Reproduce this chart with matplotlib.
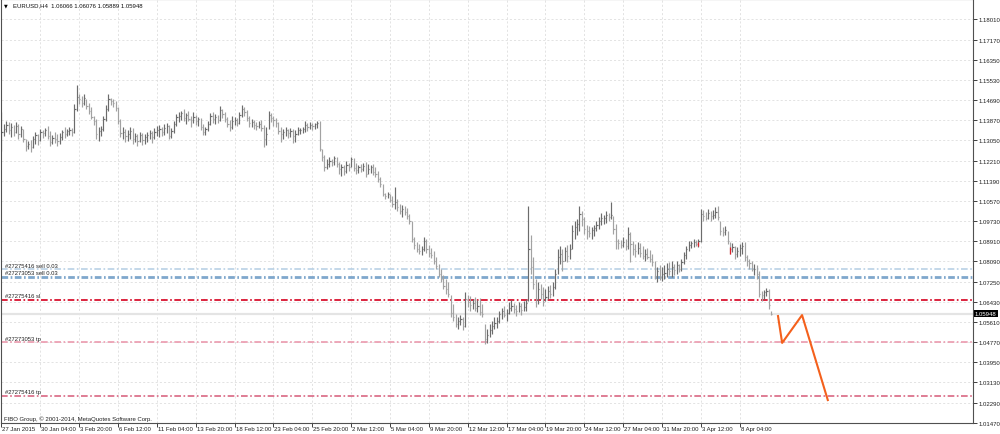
import numpy as np
import matplotlib
matplotlib.use("Agg")
import matplotlib.pyplot as plt
from matplotlib.transforms import blended_transform_factory, ScaledTranslation

plt.rcParams['font.family'] = ['Liberation Sans', 'DejaVu Sans']
plt.rcParams['lines.scale_dashes'] = False

# EURUSD H4 bars
highs = [
    1.1421, 1.1372, 1.1384, 1.1380, 1.1376, 1.1367, 1.1380, 1.1372, 1.1363, 1.1351,
    1.1310, 1.1302, 1.1306, 1.1322, 1.1339, 1.1331, 1.1351, 1.1347, 1.1355, 1.1363,
    1.1343, 1.1326, 1.1339, 1.1331, 1.1335, 1.1347, 1.1359, 1.1351, 1.1359, 1.1355,
    1.1454, 1.1531, 1.1495, 1.1486, 1.1495, 1.1474, 1.1458, 1.1441, 1.1404, 1.1392,
    1.1359, 1.1363, 1.1404, 1.1449, 1.1495, 1.1478, 1.1474, 1.1466, 1.1441, 1.1392,
    1.1359, 1.1351, 1.1347, 1.1359, 1.1355, 1.1335, 1.1331, 1.1339, 1.1335, 1.1331,
    1.1339, 1.1347, 1.1343, 1.1355, 1.1363, 1.1367, 1.1359, 1.1372, 1.1376, 1.1367,
    1.1355, 1.1384, 1.1412, 1.1421, 1.1425, 1.1433, 1.1417, 1.1425, 1.1404, 1.1421,
    1.1408, 1.1400, 1.1396, 1.1372, 1.1359, 1.1384, 1.1417, 1.1421, 1.1412, 1.1408,
    1.1445, 1.1433, 1.1421, 1.1400, 1.1388, 1.1404, 1.1400, 1.1396, 1.1421, 1.1449,
    1.1441, 1.1429, 1.1404, 1.1392, 1.1388, 1.1380, 1.1384, 1.1388, 1.1367, 1.1359,
    1.1425, 1.1417, 1.1404, 1.1396, 1.1380, 1.1359, 1.1351, 1.1359, 1.1351, 1.1355,
    1.1351, 1.1347, 1.1359, 1.1355, 1.1359, 1.1384, 1.1376, 1.1380, 1.1376, 1.1376,
    1.1384, 1.1384, 1.1269, 1.1244, 1.1228, 1.1236, 1.1228, 1.1240, 1.1236, 1.1216,
    1.1208, 1.1203, 1.1220, 1.1212, 1.1236, 1.1232, 1.1212, 1.1203, 1.1208, 1.1212,
    1.1216, 1.1208, 1.1203, 1.1208, 1.1195, 1.1179, 1.1154, 1.1126, 1.1089, 1.1093,
    1.1085, 1.1076, 1.1113, 1.1064, 1.1044, 1.1039, 1.1035, 1.1027, 1.1003, 1.0974,
    1.0908, 1.0888, 1.0880, 1.0871, 1.0908, 1.0900, 1.0875, 1.0863, 1.0851, 1.0826,
    1.0798, 1.0777, 1.0752, 1.0736, 1.0724, 1.0670, 1.0634, 1.0593, 1.0580, 1.0588,
    1.0580, 1.0683, 1.0670, 1.0666, 1.0654, 1.0662, 1.0650, 1.0658, 1.0634, 1.0552,
    1.0531, 1.0552, 1.0564, 1.0580, 1.0580, 1.0605, 1.0617, 1.0625, 1.0613, 1.0642,
    1.0650, 1.0638, 1.0629, 1.0642, 1.0638, 1.0646, 1.0654, 1.1035, 1.0916, 1.0826,
    1.0736, 1.0724, 1.0716, 1.0703, 1.0695, 1.0707, 1.0711, 1.0724, 1.0777, 1.0859,
    1.0871, 1.0859, 1.0867, 1.0875, 1.0880, 1.0957, 1.0974, 1.0982, 1.1035, 1.1015,
    1.0990, 1.0957, 1.0953, 1.0949, 1.0957, 1.0974, 1.0990, 1.1007, 1.0998, 1.1015,
    1.1007, 1.1052, 1.0994, 1.0962, 1.0900, 1.0896, 1.0908, 1.0900, 1.0949, 1.0929,
    1.0892, 1.0880, 1.0888, 1.0884, 1.0871, 1.0859, 1.0863, 1.0855, 1.0839, 1.0810,
    1.0785, 1.0793, 1.0785, 1.0793, 1.0802, 1.0806, 1.0810, 1.0798, 1.0810, 1.0798,
    1.0818, 1.0847, 1.0871, 1.0892, 1.0892, 1.0900, 1.0896, 1.0900, 1.1023, 1.1019,
    1.1011, 1.1023, 1.1015, 1.1019, 1.1031, 1.1035, 1.0974, 1.0949, 1.0953, 1.0933,
    1.0888, 1.0884, 1.0871, 1.0867, 1.0880, 1.0888, 1.0888, 1.0834, 1.0818, 1.0810,
    1.0798, 1.0793, 1.0769, 1.0687, 1.0691, 1.0699, 1.0695, 1.06076,
]
lows = [
    1.1261, 1.1322, 1.1339, 1.1331, 1.1318, 1.1322, 1.1335, 1.1310, 1.1318, 1.1298,
    1.1261, 1.1269, 1.1257, 1.1273, 1.1290, 1.1285, 1.1302, 1.1314, 1.1322, 1.1310,
    1.1281, 1.1290, 1.1294, 1.1281, 1.1290, 1.1306, 1.1314, 1.1322, 1.1326, 1.1322,
    1.1335, 1.1425, 1.1454, 1.1441, 1.1449, 1.1433, 1.1412, 1.1392, 1.1367, 1.1310,
    1.1302, 1.1322, 1.1343, 1.1384, 1.1425, 1.1449, 1.1441, 1.1425, 1.1372, 1.1318,
    1.1310, 1.1298, 1.1302, 1.1310, 1.1290, 1.1298, 1.1281, 1.1298, 1.1285, 1.1290,
    1.1298, 1.1310, 1.1294, 1.1310, 1.1322, 1.1318, 1.1322, 1.1326, 1.1335, 1.1310,
    1.1314, 1.1335, 1.1363, 1.1380, 1.1388, 1.1384, 1.1372, 1.1384, 1.1359, 1.1376,
    1.1367, 1.1363, 1.1347, 1.1326, 1.1326, 1.1343, 1.1367, 1.1376, 1.1372, 1.1376,
    1.1384, 1.1396, 1.1380, 1.1359, 1.1343, 1.1351, 1.1367, 1.1363, 1.1372, 1.1400,
    1.1404, 1.1384, 1.1359, 1.1359, 1.1351, 1.1347, 1.1355, 1.1343, 1.1277, 1.1285,
    1.1351, 1.1380, 1.1363, 1.1359, 1.1331, 1.1298, 1.1310, 1.1322, 1.1314, 1.1318,
    1.1294, 1.1298, 1.1326, 1.1331, 1.1335, 1.1339, 1.1343, 1.1351, 1.1347, 1.1351,
    1.1355, 1.1261, 1.1220, 1.1179, 1.1187, 1.1195, 1.1199, 1.1203, 1.1195, 1.1167,
    1.1158, 1.1162, 1.1171, 1.1179, 1.1195, 1.1179, 1.1167, 1.1171, 1.1175, 1.1179,
    1.1154, 1.1167, 1.1171, 1.1162, 1.1154, 1.1134, 1.1113, 1.1076, 1.1064, 1.1068,
    1.1052, 1.1031, 1.1023, 1.1015, 1.1003, 1.0990, 1.0998, 1.0982, 1.0962, 1.0888,
    1.0859, 1.0847, 1.0839, 1.0834, 1.0851, 1.0843, 1.0826, 1.0822, 1.0798, 1.0777,
    1.0744, 1.0724, 1.0695, 1.0675, 1.0662, 1.0580, 1.0564, 1.0539, 1.0531, 1.0547,
    1.0527, 1.0539, 1.0621, 1.0605, 1.0613, 1.0605, 1.0601, 1.0588, 1.0580, 1.0470,
    1.0474, 1.0498, 1.0511, 1.0531, 1.0535, 1.0556, 1.0572, 1.0580, 1.0564, 1.0593,
    1.0605, 1.0597, 1.0584, 1.0601, 1.0588, 1.0605, 1.0605, 1.0646, 1.0757, 1.0695,
    1.0621, 1.0634, 1.0654, 1.0625, 1.0646, 1.0654, 1.0658, 1.0666, 1.0695, 1.0757,
    1.0798, 1.0769, 1.0810, 1.0806, 1.0818, 1.0859, 1.0900, 1.0916, 1.0933, 1.0953,
    1.0921, 1.0900, 1.0908, 1.0900, 1.0912, 1.0933, 1.0941, 1.0957, 1.0962, 1.0966,
    1.0974, 1.0982, 1.0921, 1.0859, 1.0859, 1.0863, 1.0867, 1.0855, 1.0859, 1.0806,
    1.0834, 1.0826, 1.0839, 1.0826, 1.0818, 1.0810, 1.0818, 1.0806, 1.0789, 1.0736,
    1.0724, 1.0732, 1.0728, 1.0736, 1.0744, 1.0752, 1.0744, 1.0752, 1.0757, 1.0765,
    1.0769, 1.0798, 1.0818, 1.0851, 1.0863, 1.0867, 1.0871, 1.0867, 1.0888, 1.0974,
    1.0978, 1.0982, 1.0974, 1.0982, 1.0986, 1.0978, 1.0916, 1.0912, 1.0916, 1.0880,
    1.0839, 1.0847, 1.0818, 1.0826, 1.0830, 1.0839, 1.0810, 1.0789, 1.0777, 1.0769,
    1.0752, 1.0736, 1.0662, 1.0646, 1.0654, 1.0666, 1.0613, 1.05889,
]
closes = [
    1.1339, 1.1351, 1.1367, 1.1347, 1.1359, 1.1339, 1.1363, 1.1331, 1.1351, 1.1310,
    1.1281, 1.1290, 1.1277, 1.1310, 1.1326, 1.1306, 1.1339, 1.1335, 1.1347, 1.1322,
    1.1298, 1.1314, 1.1310, 1.1302, 1.1318, 1.1339, 1.1331, 1.1343, 1.1347, 1.1339,
    1.1433, 1.1482, 1.1474, 1.1458, 1.1478, 1.1445, 1.1425, 1.1400, 1.1384, 1.1331,
    1.1343, 1.1351, 1.1392, 1.1433, 1.1474, 1.1466, 1.1458, 1.1437, 1.1384, 1.1335,
    1.1339, 1.1322, 1.1331, 1.1343, 1.1310, 1.1322, 1.1302, 1.1326, 1.1306, 1.1318,
    1.1326, 1.1335, 1.1318, 1.1339, 1.1347, 1.1351, 1.1339, 1.1355, 1.1363, 1.1322,
    1.1343, 1.1372, 1.1400, 1.1404, 1.1417, 1.1396, 1.1408, 1.1392, 1.1388, 1.1400,
    1.1384, 1.1392, 1.1359, 1.1339, 1.1351, 1.1372, 1.1404, 1.1392, 1.1400, 1.1388,
    1.1429, 1.1412, 1.1392, 1.1372, 1.1359, 1.1384, 1.1388, 1.1376, 1.1408, 1.1433,
    1.1421, 1.1396, 1.1376, 1.1380, 1.1367, 1.1363, 1.1372, 1.1355, 1.1310, 1.1331,
    1.1408, 1.1396, 1.1388, 1.1376, 1.1343, 1.1331, 1.1339, 1.1347, 1.1335, 1.1343,
    1.1322, 1.1331, 1.1347, 1.1347, 1.1351, 1.1367, 1.1359, 1.1367, 1.1363, 1.1372,
    1.1376, 1.1269, 1.1236, 1.1195, 1.1208, 1.1220, 1.1216, 1.1232, 1.1208, 1.1187,
    1.1195, 1.1179, 1.1203, 1.1195, 1.1228, 1.1191, 1.1183, 1.1195, 1.1187, 1.1199,
    1.1167, 1.1187, 1.1195, 1.1175, 1.1167, 1.1146, 1.1126, 1.1085, 1.1076, 1.1085,
    1.1060, 1.1044, 1.1052, 1.1031, 1.1015, 1.1023, 1.1011, 1.0994, 1.0974, 1.0900,
    1.0875, 1.0859, 1.0851, 1.0859, 1.0892, 1.0859, 1.0843, 1.0834, 1.0810, 1.0789,
    1.0757, 1.0736, 1.0707, 1.0695, 1.0675, 1.0597, 1.0580, 1.0552, 1.0564, 1.0572,
    1.0543, 1.0654, 1.0642, 1.0629, 1.0638, 1.0617, 1.0625, 1.0601, 1.0593, 1.0490,
    1.0506, 1.0527, 1.0543, 1.0556, 1.0564, 1.0593, 1.0605, 1.0588, 1.0597, 1.0617,
    1.0625, 1.0613, 1.0605, 1.0625, 1.0609, 1.0621, 1.0638, 1.0859, 1.0785, 1.0716,
    1.0654, 1.0695, 1.0675, 1.0642, 1.0662, 1.0687, 1.0675, 1.0703, 1.0757, 1.0826,
    1.0839, 1.0810, 1.0851, 1.0830, 1.0859, 1.0933, 1.0949, 1.0962, 1.1003, 1.0982,
    1.0941, 1.0933, 1.0925, 1.0937, 1.0945, 1.0957, 1.0974, 1.0986, 1.0986, 1.0998,
    1.0990, 1.0998, 1.0941, 1.0892, 1.0884, 1.0875, 1.0888, 1.0871, 1.0921, 1.0880,
    1.0859, 1.0851, 1.0863, 1.0843, 1.0830, 1.0839, 1.0826, 1.0818, 1.0806, 1.0748,
    1.0769, 1.0744, 1.0757, 1.0761, 1.0777, 1.0769, 1.0785, 1.0773, 1.0793, 1.0777,
    1.0806, 1.0834, 1.0859, 1.0875, 1.0884, 1.0888, 1.0880, 1.0892, 1.1003, 1.0994,
    1.0986, 1.1007, 1.0994, 1.0998, 1.1011, 1.0990, 1.0933, 1.0929, 1.0937, 1.0892,
    1.0859, 1.0867, 1.0839, 1.0851, 1.0863, 1.0871, 1.0826, 1.0810, 1.0802, 1.0777,
    1.0777, 1.0757, 1.0675, 1.0670, 1.0683, 1.0687, 1.0629, 1.05948,
]
last_price = 1.05948
header = "EURUSD,H4  1.06066 1.06076 1.05889 1.05948"
footer = "FIBO Group, \u00a9 2001-2014, MetaQuotes Software Corp."

time_labels = [
    "27 Jan 2015", "30 Jan 04:00", "3 Feb 20:00", "6 Feb 12:00", "11 Feb 04:00",
    "13 Feb 20:00", "18 Feb 12:00", "23 Feb 04:00", "25 Feb 20:00", "2 Mar 12:00",
    "5 Mar 04:00", "9 Mar 20:00", "12 Mar 12:00", "17 Mar 04:00", "19 Mar 20:00",
    "24 Mar 12:00", "27 Mar 04:00", "31 Mar 20:00", "3 Apr 12:00", "8 Apr 04:00",
]
bars_per_label = 16

price_ticks = [
    1.18010, 1.17170, 1.16350, 1.15530, 1.14690, 1.13870, 1.13050, 1.12210,
    1.11390, 1.10570, 1.09730, 1.08910, 1.08090, 1.07250, 1.06430, 1.05610,
    1.04770, 1.03950, 1.03130, 1.02290, 1.01470,
]

# order levels
order_prices = [1.0776, 1.0747, 1.0651, 1.0477, 1.0258]
order_labels = ["#27275416 sell 0.03", "#27273053 sell 0.03", "#27275416 sl",
                "#27273053 tp", "#27275416 tp"]
order_colors = ["#b3cde3", "#7fa7cc", "#d9122f", "#eb9aae", "#d65a78"]
order_widths = [1.1, 2.0, 1.3, 1.2, 1.1]

# trade markers (short red bars)
trade_idx = [287, 300]
trade_hi = [1.0888, 1.0868]
trade_lo = [1.0872, 1.0841]

# hand drawn projection
proj_idx = [319.8, 321.5, 329.7, 340.3]
proj_price = [1.0585, 1.0475, 1.0589, 1.0241]

fig = plt.figure(figsize=(10, 4.35), dpi=100)
ax = fig.add_axes([0.001, 11 / 435, 0.972, 424 / 435])

h = np.array(highs)
l = np.array(lows)
c = np.array(closes)
x = np.arange(len(c))
prev = np.r_[c[0], c[:-1]]
cols = np.where(c >= prev, "#6c6c6c", "#a2a2a2")

ax.set_xlim(-0.2, 400.1)
ax.set_ylim(1.01470, 1.18837)

# grid
xt = np.arange(len(time_labels)) * bars_per_label
for xv in xt:
    ax.axvline(xv, color="#dedede", lw=0.6, ls=(0, (1.5, 1.5)), zorder=0)
for yv in price_ticks:
    ax.axhline(yv, color="#dedede", lw=0.6, ls=(0, (1.5, 1.5)), zorder=0)

# bid line
ax.axhline(last_price, color="#e4e4e4", lw=1.6, zorder=0.5)

# order lines
for p, lab, col, w in zip(order_prices, order_labels, order_colors, order_widths):
    ax.axhline(p, color=col, lw=w, ls=(0, (4.8, 1.8, 1.2, 1.8)), zorder=1)
    ax.annotate(lab, (1.3, p), xytext=(0, 1.2), textcoords="offset points",
                fontsize=4.2, color="#222222", va="bottom", ha="left")

# bars
ax.vlines(x, l, h, colors=cols, lw=0.85, zorder=2)
ax.hlines(c, x, x + 0.5, colors=cols, lw=0.85, zorder=2)
ax.vlines(trade_idx, trade_lo, trade_hi, colors="#e0202a", lw=0.9, zorder=3)

# projection
ax.plot(proj_idx, proj_price, color="#f4601c", lw=1.5, zorder=4)

# axes styling
for s in ax.spines.values():
    s.set_color("#505050")
    s.set_linewidth(0.8)
ax.yaxis.tick_right()
ax.set_yticks(price_ticks)
ax.set_yticklabels([f"{v:.5f}" for v in price_ticks])
ax.set_xticks(xt)
ax.set_xticklabels(time_labels, ha="left")
ax.tick_params(axis="y", direction="out", length=3, width=0.6, pad=1.2,
               labelsize=4.3, colors="#202020")
ax.tick_params(axis="x", direction="out", length=3, width=0.6, pad=-1.0,
               labelsize=4.3, colors="#202020")
shift = ScaledTranslation(0.7 / 72, 0, fig.dpi_scale_trans)
for lab in ax.get_xticklabels():
    lab.set_transform(lab.get_transform() + shift)

tr = blended_transform_factory(ax.transAxes, ax.transData)
ax.text(1.002, last_price, "1.05948", transform=tr, fontsize=4.3, color="white",
        va="center", ha="left",
        bbox=dict(facecolor="black", edgecolor="none", pad=0.8))

ax.text(0.003, 0.987, "\u25bc", transform=ax.transAxes, fontsize=3.5,
        va="center", ha="left", family=["DejaVu Sans"])
ax.text(0.012, 0.987, header, transform=ax.transAxes, fontsize=4.3,
        va="center", ha="left", color="#101010")
ax.text(0.003, 0.012, footer, transform=ax.transAxes, fontsize=4.3,
        va="center", ha="left", color="#202020")

fig.savefig("out.png", dpi=100, facecolor="white")
